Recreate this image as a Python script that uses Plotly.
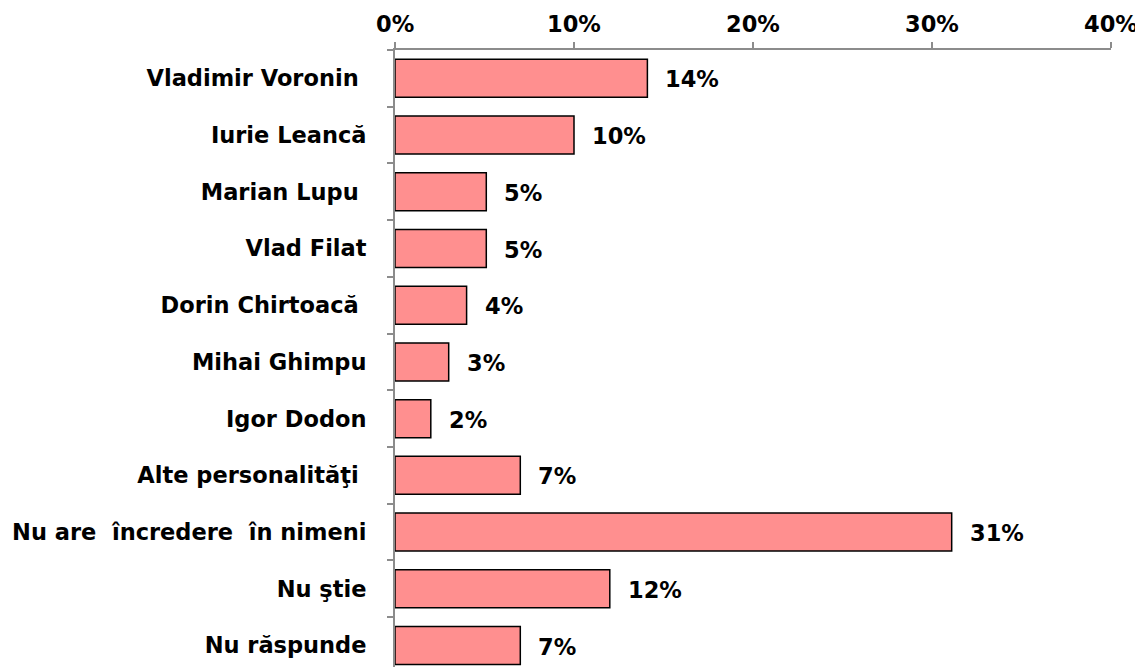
import plotly.graph_objects as go

categories = ["Vladimir Voronin ", "Iurie Leancă", "Marian Lupu ", "Vlad Filat",
              "Dorin Chirtoacă ", "Mihai Ghimpu", "Igor Dodon", "Alte personalităţi ",
              "Nu are  încredere  în nimeni", "Nu ştie", "Nu răspunde"]
values = [14.1, 10.0, 5.1, 5.1, 4.0, 3.0, 2.0, 7.0, 31.1, 12.0, 7.0]
labels = ["14%", "10%", "5%", "5%", "4%", "3%", "2%", "7%", "31%", "12%", "7%"]
x_ticks = [0, 10, 20, 30, 40]
x_tick_text = ["0%", "10%", "20%", "30%", "40%"]

FONT = "DejaVu Sans, Liberation Sans, Arial, sans-serif"
FS = 22.5

fig = go.Figure()
fig.add_trace(go.Bar(
    x=values, y=categories, orientation="h",
    marker=dict(color="#FF8F8F", line=dict(color="#000000", width=1.5)),
    width=0.67, hoverinfo="skip",
))
for c, v, t in zip(categories, values, labels):
    fig.add_annotation(x=v, y=c, text="<b>%s</b>" % t, showarrow=False,
                       xanchor="left", xshift=16, yshift=-1,
                       font=dict(family=FONT, size=FS, color="#000000"))
for xv, xt in zip(x_ticks, x_tick_text):
    fig.add_annotation(x=xv, y=1, yref="paper", text="<b>%s</b>" % xt,
                       showarrow=False, xanchor="center", yanchor="bottom",
                       yshift=11, font=dict(family=FONT, size=FS, color="#000000"))

fig.update_layout(
    width=1143, height=667,
    margin=dict(l=387, r=40, t=42, b=0),
    paper_bgcolor="white", plot_bgcolor="white",
    showlegend=False,
    font=dict(family=FONT, size=FS, color="#000000"),
    xaxis=dict(side="top", range=[0, 40], tickvals=x_ticks, showticklabels=False,
               showgrid=False, zeroline=False, showline=True, automargin=False,
               linecolor="#8C8C8C", linewidth=2, ticks="outside",
               ticklen=6, tickcolor="#8C8C8C", tickwidth=1.5),
    yaxis=dict(categoryorder="array", categoryarray=categories,
               range=[10.52, -0.5], showgrid=False, zeroline=False,
               showline=True, linecolor="#8C8C8C", linewidth=2, automargin=False,
               ticks="outside", ticklen=6, tickcolor="#8C8C8C", tickwidth=1.5,
               tickson="boundaries", ticklabelstandoff=22,
               tickvals=categories,
               ticktext=["<b>%s</b>" % c for c in categories],
               tickfont=dict(family=FONT, size=FS, color="#000000")),
)
fig.write_html("out.html")
